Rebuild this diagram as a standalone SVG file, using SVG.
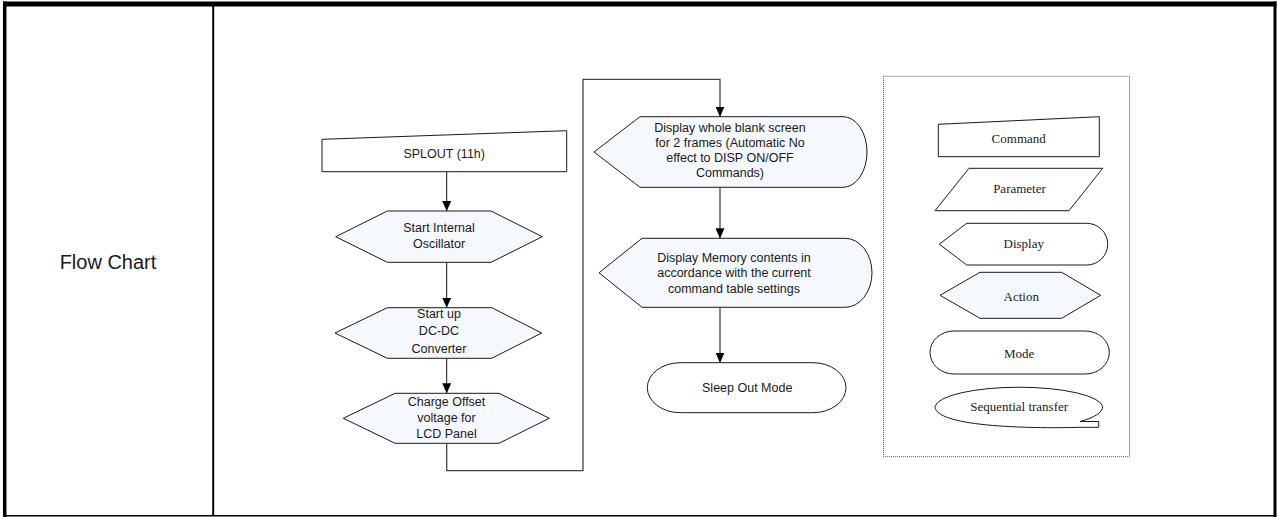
<svg xmlns="http://www.w3.org/2000/svg" width="1277" height="517" viewBox="0 0 1277 517">
<style>
  .frame { stroke: #000; fill: none; }
  .shape { stroke: #1a1a1a; stroke-width: 1; }
  .plain { fill: #ffffff; }
  .tint { fill: #f5f8fc; }
  .sans { font-family: "Liberation Sans", Arial, sans-serif; font-size: 12.5px; fill: #1a1a1a; text-anchor: middle; }
  .serif { font-family: "Liberation Serif", "Times New Roman", serif; font-size: 13px; fill: #1a1a1a; text-anchor: middle; }
  .conn { stroke: #111; stroke-width: 1; fill: none; }
  .conn-long { stroke: #444; stroke-width: 1.3; fill: none; }
</style>
<defs>
  <marker id="arrow" viewBox="0 0 10 9" refX="10" refY="4.5" markerWidth="10" markerHeight="9" markerUnits="userSpaceOnUse" orient="auto">
    <path d="M0,0 L10,4.5 L0,9 Z" fill="#000"/>
  </marker>
</defs>
<rect x="0" y="0" width="1277" height="517" fill="#ffffff"/>

<g id="table-frame">
  <line class="frame" x1="3" y1="4" x2="1276.5" y2="4" stroke-width="5"/>
  <line class="frame" x1="4.7" y1="1.5" x2="4.7" y2="517" stroke-width="3.5"/>
  <line class="frame" x1="1275" y1="1.5" x2="1275" y2="517" stroke-width="3"/>
  <line class="frame" x1="3" y1="515.8" x2="1276.5" y2="515.8" stroke-width="1.6"/>
  <line class="frame" x1="213.2" y1="4" x2="213.2" y2="516" stroke-width="2"/>
</g>

<g id="label-flow-chart">
  <text x="108" y="269" font-family="Liberation Sans, Arial, sans-serif" font-size="20" fill="#1a1a1a" text-anchor="middle">Flow Chart</text>
</g>

<g id="connectors">
  <line class="conn" x1="446.7" y1="172" x2="446.7" y2="211" marker-end="url(#arrow)"/>
  <line class="conn" x1="446.7" y1="262.3" x2="446.7" y2="307.7" marker-end="url(#arrow)"/>
  <line class="conn" x1="446.7" y1="358.3" x2="446.7" y2="393.3" marker-end="url(#arrow)"/>
  <polyline class="conn-long" points="446.7,443.3 446.7,470.7 583,470.7 583,79.3 720,79.3 720,116.7" marker-end="url(#arrow)"/>
  <line class="conn" x1="720" y1="187.3" x2="720" y2="238.3" marker-end="url(#arrow)"/>
  <line class="conn" x1="720" y1="307.3" x2="720" y2="362.7" marker-end="url(#arrow)"/>
</g>

<g id="node-splout">
  <polygon class="shape plain" points="322,139.3 566.7,130.7 566.7,171.7 322,171.7"/>
  <text class="sans" x="444.2" y="158.3">SPLOUT (11h)</text>
</g>

<g id="node-start-osc">
  <polygon class="shape tint" points="335.7,236.7 387.3,211 491,211 542.3,236.7 491,262.3 387.3,262.3"/>
  <text class="sans" x="439" y="231.7">Start Internal</text>
  <text class="sans" x="439" y="248.3">Oscillator</text>
</g>

<g id="node-dcdc">
  <polygon class="shape tint" points="335,333 387.3,307.7 491.7,307.7 541.7,333 491.7,358.3 387.3,358.3"/>
  <text class="sans" x="439" y="318.3">Start up</text>
  <text class="sans" x="439" y="335">DC-DC</text>
  <text class="sans" x="439" y="352.7">Converter</text>
</g>

<g id="node-charge">
  <polygon class="shape tint" points="343.3,418.3 395,393.3 499,393.3 549.3,418.3 499,443.3 395,443.3"/>
  <text class="sans" x="446.5" y="406">Charge Offset</text>
  <text class="sans" x="446.5" y="421.7">voltage for</text>
  <text class="sans" x="446.5" y="437.7">LCD Panel</text>
</g>

<g id="node-blank">
  <path class="shape tint" d="M640,116.7 H843 A24,35.3 0 0 1 843,187.3 H640 L594,152 Z"/>
  <text class="sans" x="730" y="131.7">Display whole blank screen</text>
  <text class="sans" x="730" y="146.9">for 2 frames (Automatic No</text>
  <text class="sans" x="730" y="162.1">effect to DISP ON/OFF</text>
  <text class="sans" x="730" y="177.3">Commands)</text>
</g>

<g id="node-memory">
  <path class="shape tint" d="M642,238.3 H845 A27,34.5 0 0 1 845,307.3 H642 L599,272.8 Z"/>
  <text class="sans" x="734" y="261.5">Display Memory contents in</text>
  <text class="sans" x="734" y="277">accordance with the current</text>
  <text class="sans" x="734" y="292.5">command table settings</text>
</g>

<g id="node-sleep-out">
  <rect class="shape plain" x="647.3" y="362.7" width="198.7" height="50" rx="33" ry="25"/>
  <text class="sans" x="747.2" y="391.7">Sleep Out Mode</text>
</g>

<g id="legend">
  <rect x="883.5" y="76.3" width="246" height="380.4" fill="none" stroke="#555" stroke-width="1" stroke-dasharray="1,1"/>
  <g id="legend-command">
    <polygon class="shape plain" points="938.3,124.3 1099.3,116.7 1099.3,156.7 938.3,156.7"/>
    <text class="serif" x="1018.7" y="143.3">Command</text>
  </g>
  <g id="legend-parameter">
    <polygon class="shape plain" points="969,168.3 1102.7,168.3 1069,210.7 935,210.7"/>
    <text class="serif" x="1019.5" y="193">Parameter</text>
  </g>
  <g id="legend-display">
    <path class="shape plain" d="M966.7,223.3 H1086.7 A21,20.85 0 0 1 1086.7,265 H966.7 L939.3,244.2 Z"/>
    <text class="serif" x="1023.8" y="248">Display</text>
  </g>
  <g id="legend-action">
    <polygon class="shape tint" points="940,295.3 980,272.3 1061.7,272.3 1100.7,295.3 1061.7,318.3 980,318.3"/>
    <text class="serif" x="1021.2" y="300.5" font-size="15.5">Action</text>
  </g>
  <g id="legend-mode">
    <rect class="shape plain" x="930" y="331" width="179.3" height="43" rx="24" ry="21.5"/>
    <text class="serif" x="1019.2" y="358.3">Mode</text>
  </g>
  <g id="legend-sequential">
    <path class="shape plain" d="M1080,427.3 C1040,428.5 935,428 935,406.5 A84,20.5 0 0 1 1102.7,406.5 C1102.7,413 1093,418 1080,421.5 L1098.7,421.5 L1098.7,427.3 Z"/>
    <text class="serif" x="1019.2" y="410.5">Sequential transfer</text>
  </g>
</g>
</svg>
